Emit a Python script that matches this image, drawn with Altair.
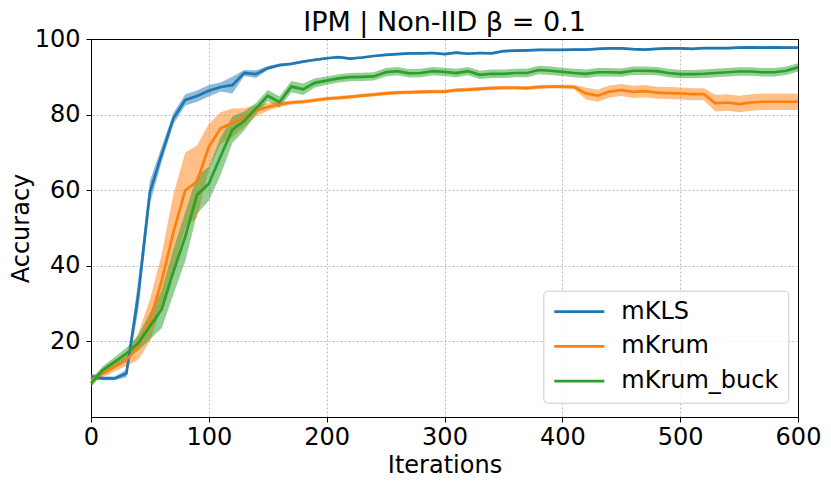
import altair as alt
import pandas as pd

iterations = list(range(0, 601, 10))
series_names = ["mKLS", "mKrum", "mKrum_buck"]
series_colors = ["#1f77b4", "#ff7f0e", "#2ca02c"]

mkls_mean = [10.7, 10.2, 10.2, 11.5, 32.0, 59.5, 69.5, 79.0, 83.9, 84.9,
             86.3, 87.3, 87.8, 91.0, 90.7, 92.3, 93.1, 93.4, 94.0, 94.5,
             94.9, 95.2, 94.8, 95.1, 95.5, 95.8, 96.0, 96.2, 96.2, 96.3,
             96.0, 96.4, 96.1, 96.3, 96.2, 96.8, 96.9, 97.0, 97.1, 97.1,
             97.1, 97.2, 97.2, 97.4, 97.5, 97.5, 97.3, 97.2, 97.4, 97.5,
             97.5, 97.4, 97.6, 97.6, 97.6, 97.7, 97.8, 97.7, 97.8, 97.7, 97.7]
mkls_std = [0.8, 0.5, 0.5, 1.0, 4.0, 3.0, 2.0, 1.5, 1.5, 1.5,
            1.5, 1.2, 2.2, 0.8, 1.0, 0.5, 0.4] + [0.3] * 44

mkrum_mean = [9.8, 11.5, 13.3, 15.0, 18.6, 25.5, 36.0, 49.0, 60.0, 62.3,
              71.5, 76.4, 77.8, 79.2, 81.0, 82.0, 82.7, 83.2, 83.4, 83.8,
              84.2, 84.4, 84.7, 85.0, 85.3, 85.6, 85.8, 85.9, 86.0, 86.1,
              86.1, 86.5, 86.6, 86.8, 87.0, 87.1, 87.1, 87.0, 87.3, 87.4,
              87.4, 87.3, 85.6, 85.0, 86.1, 86.5, 86.0, 86.2, 85.8, 85.7,
              85.6, 85.4, 85.4, 83.0, 83.2, 82.8, 83.2, 83.4, 83.4, 83.4, 83.4]
mkrum_std = [0.8, 1.0, 1.2, 1.5, 3.5, 5.5, 7.0, 10.0, 10.0, 9.5,
             6.0, 4.2, 3.8, 2.5, 1.5, 1.0, 0.7, 0.5, 0.5, 0.5] + [0.5] * 20 + \
            [0.5, 0.6] + [1.6] * 11 + [2.2] * 8

buck_mean = [8.9, 12.4, 14.6, 16.8, 19.5, 24.0, 28.5, 38.5, 47.7, 58.8,
             61.7, 69.0, 76.0, 78.3, 81.6, 85.0, 83.3, 87.4, 86.7, 88.4,
             89.0, 89.6, 89.9, 90.0, 90.1, 91.2, 91.5, 90.9, 91.0, 91.5,
             91.3, 91.0, 91.5, 90.5, 90.8, 90.8, 91.0, 91.0, 91.8, 91.6,
             91.3, 91.0, 90.8, 91.2, 91.2, 91.1, 91.6, 91.6, 91.5, 91.0,
             90.7, 90.7, 90.8, 91.0, 91.2, 91.4, 91.4, 91.2, 91.2, 91.6, 92.5]
buck_std = [1.0, 1.0, 1.2, 1.5, 2.0, 3.5, 5.0, 6.0, 6.5, 5.0,
            4.5, 5.0, 3.5, 2.5, 1.5, 1.5, 1.5, 1.5, 1.5, 1.2] + [1.1] * 41

x_ticks = [0, 100, 200, 300, 400, 500, 600]
y_ticks = [20, 40, 60, 80, 100]
x_grid = [100, 200, 300, 400, 500]
y_grid = [20, 40, 60, 80]

rows = []
for name, means, stds in zip(series_names,
                             [mkls_mean, mkrum_mean, buck_mean],
                             [mkls_std, mkrum_std, buck_std]):
    for it, m, s in zip(iterations, means, stds):
        rows.append({"Iterations": it, "series": name, "mean": m,
                     "lo": m - s, "hi": m + s})
df = pd.DataFrame(rows)

FONT = "DejaVu Sans"

# bottom / left: labelled axes (no grid)
x_axis = alt.Axis(values=x_ticks, title="Iterations", labelFontSize=24,
                  titleFontSize=24, labelBaseline="alphabetic", labelPadding=22.6,
                  tickSize=5, titleBaseline="alphabetic", titleY=55,
                  titleFontWeight="normal", labelFlush=False, grid=False)
y_axis = alt.Axis(values=y_ticks, title="Accuracy", labelFontSize=24,
                  titleFontSize=24, labelPadding=6, tickSize=5,
                  titleAngle=270, titleBaseline="alphabetic", titleAlign="center",
                  titleX=-62.7, titleY=189, titleFontWeight="normal",
                  labelFlush=False, grid=False)
# top / right: spines + grid only
x_axis_top = alt.Axis(orient="top", values=x_grid, title=None, labels=False,
                      ticks=False, grid=True, domain=True)
y_axis_right = alt.Axis(orient="right", values=y_grid, title=None, labels=False,
                        ticks=False, grid=True, domain=True)

x_scale = alt.Scale(domain=[0, 600], nice=False, zero=False)
y_scale = alt.Scale(domain=[0, 100], nice=False)
color_scale = alt.Scale(domain=series_names, range=series_colors)

band = alt.Chart(df).mark_area(opacity=0.5).encode(
    x=alt.X("Iterations:Q", scale=x_scale, axis=x_axis_top),
    y=alt.Y("lo:Q", scale=y_scale, axis=y_axis_right),
    y2="hi:Q",
    color=alt.Color("series:N", scale=color_scale, legend=None),
)

line = alt.Chart(df).mark_line(strokeWidth=2.7).encode(
    x=alt.X("Iterations:Q", scale=x_scale, axis=x_axis),
    y=alt.Y("mean:Q", scale=y_scale, axis=y_axis),
    color=alt.Color(
        "series:N", scale=color_scale,
        legend=alt.Legend(
            title=None, orient="none", legendX=452.3, legendY=251.7,
            symbolType="M-2,0H8", symbolSize=100, symbolStrokeWidth=2.7,
            labelFontSize=24, labelFont=FONT, labelColor="black",
            labelOffset=45, rowPadding=10.7, padding=9,
            strokeColor="#cccccc", fillColor="rgba(255,255,255,0.8)",
            cornerRadius=4,
        ),
    ),
)

chart = alt.layer(band, line).resolve_axis(
    x="independent", y="independent"
).resolve_legend(color="independent").properties(
    width=707,
    height=378,
    title=alt.TitleParams("IPM | Non-IID β = 0.1", fontSize=27, font=FONT,
                          fontWeight="normal", anchor="middle", frame="group",
                          baseline="alphabetic", offset=-30.5, color="black"),
    padding={"left": 83, "top": 31, "right": 25, "bottom": 60},
    autosize=alt.AutoSizeParams(type="none"),
).configure(font=FONT).configure_axis(
    labelFont=FONT, titleFont=FONT, labelColor="black", titleColor="black",
    domainColor="black", domainWidth=1, tickColor="black", tickWidth=1,
    gridColor="#b0b0b0", gridDash=[2, 2], gridWidth=0.8,
).configure_view(stroke="black", strokeWidth=1)

chart.save("out.html", embed_options={"renderer": "svg", "actions": False})
